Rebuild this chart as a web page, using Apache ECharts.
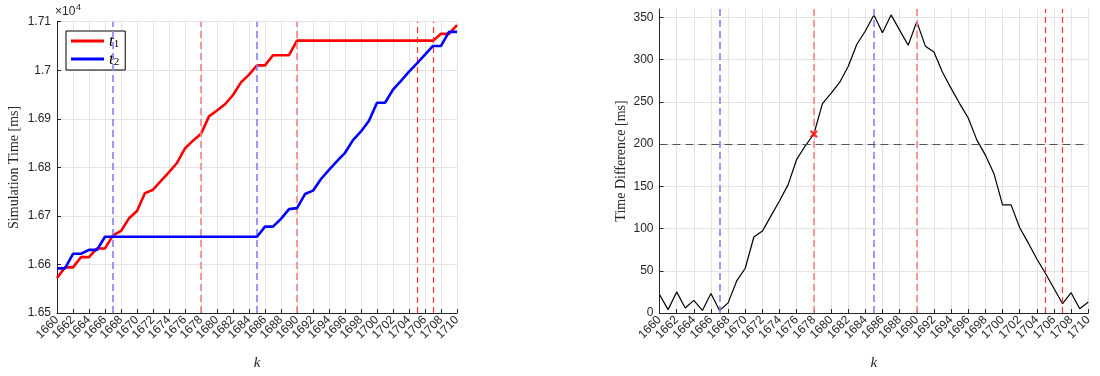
<!DOCTYPE html>
<html><head><meta charset="utf-8">
<script src="https://cdn.jsdelivr.net/npm/echarts@6/dist/echarts.min.js"></script>
<style>html,body{margin:0;padding:0;background:#fff}#c{width:1100px;height:376px}</style>
</head><body><div id="c"></div>
<script>
// ---- data ----
const kValues = [1660,1661,1662,1663,1664,1665,1666,1667,1668,1669,1670,1671,1672,1673,1674,1675,1676,1677,1678,1679,1680,1681,1682,1683,1684,1685,1686,1687,1688,1689,1690,1691,1692,1693,1694,1695,1696,1697,1698,1699,1700,1701,1702,1703,1704,1705,1706,1707,1708,1709,1710];
const t1 = [16572,16594,16594,16615,16615,16633,16633,16660,16669,16695,16710,16747,16754,16772,16790,16809,16839,16855,16869,16905,16917,16930,16949,16975,16991,17010,17010,17031,17031,17031,17061,17061,17061,17061,17061,17061,17061,17061,17061,17061,17061,17061,17061,17061,17061,17061,17061,17061,17075,17075,17093];
const t2 = [16592,16592,16622,16622,16630,16630,16657,16657,16657,16657,16657,16657,16657,16657,16657,16657,16657,16657,16657,16657,16657,16657,16657,16657,16657,16657,16678,16678,16694,16714,16716,16745,16752,16776,16795,16813,16830,16856,16874,16896,16933,16933,16960,16978,16997,17014,17032,17050,17050,17079,17079];
const timeDiff = [22,4,25,6,15,3,23,3,12,38,53,90,97,115,133,152,182,198,212,248,260,273,292,318,334,353,332,353,335,317,345,316,309,285,266,248,231,205,187,165,128,128,101,83,64,47,29,11,24,5,13];
const seriesNames = ['t1', 't2'];
const blueLines = [1667, 1685];
const lightRedLines = [1678, 1690];
const redLines = [1705, 1707];
const thresholdValue = 200;
const crossPoint = [1678, 212];
const leftYTicks = [16500, 16600, 16700, 16800, 16900, 17000, 17100];
const rightYTicks = [0, 50, 100, 150, 200, 250, 300, 350];

// ---- helpers ----
const pairs = arr => kValues.map((k, i) => [k, arr[i]]);
const axisColor = '#262626';
const gridColor = '#e3e3e3';
const tickFont = {fontFamily: 'Liberation Sans', fontSize: 12, color: axisColor};
const serif = 'Liberation Serif';

// Two overlaid x axes per grid, each labelling every other tick, so rotated labels are never dropped.
function xAxisDef(gridIndex, phase, main) {
  return {
    type: 'value', gridIndex, min: 1660, max: 1710, interval: 2, position: 'bottom', offset: 0,
    name: main ? 'k' : '', nameLocation: 'middle', nameGap: 43,
    nameTextStyle: {fontFamily: serif, fontStyle: 'italic', fontSize: 15, color: axisColor},
    axisLine: {show: main, lineStyle: {color: axisColor, width: 1}},
    axisTick: {show: main, inside: true, length: 4, lineStyle: {color: axisColor}},
    axisLabel: Object.assign({rotate: 45, margin: 5, interval: 0,
      formatter: v => ((v - 1660) % 4 === phase ? String(v) : '')}, tickFont),
    splitLine: {show: main, lineStyle: {color: gridColor, width: 1}}
  };
}
function vLines(vals, color, width, dash) {
  return vals.map(v => ({xAxis: v, lineStyle: {color, width, type: dash, opacity: 1}}));
}
const allVLines = [].concat(
  vLines(blueLines, '#8080ff', 1.6, [7, 4]),
  vLines(lightRedLines, '#ff8080', 1.6, [7, 4]),
  vLines(redLines, '#ff3333', 1.2, [6, 4])
);
// right y split lines: one per tick value, plus a hidden one at the 360 edge
const rightSplitColors = rightYTicks.map(() => gridColor).concat(['rgba(0,0,0,0)']);

const chart = echarts.init(document.getElementById('c'), null, {renderer: 'canvas'});
chart.setOption({
  animation: false,
  backgroundColor: '#fff',
  grid: [
    {left: 57, right: 643, top: 21.7, bottom: 49, containLabel: false},
    {left: 659.5, right: 11.7, top: 9, bottom: 52, containLabel: false}
  ],
  xAxis: [xAxisDef(0, 0, true), xAxisDef(0, 2, false), xAxisDef(1, 0, true), xAxisDef(1, 2, false)],
  yAxis: [
    {
      type: 'value', gridIndex: 0, min: leftYTicks[0], max: leftYTicks[leftYTicks.length - 1], interval: 100,
      name: 'Simulation Time [ms]', nameLocation: 'middle', nameGap: 36,
      nameTextStyle: {fontFamily: serif, fontSize: 14, color: axisColor},
      axisLine: {show: true, lineStyle: {color: axisColor}},
      axisTick: {show: true, inside: true, length: 4, lineStyle: {color: axisColor}},
      axisLabel: Object.assign({margin: 6, formatter: v => String(+(v / 1e4).toFixed(2))}, tickFont),
      splitLine: {show: true, lineStyle: {color: gridColor}}
    },
    {
      type: 'value', gridIndex: 1, min: 0, max: 360, interval: 50,
      name: 'Time Difference [ms]', nameLocation: 'middle', nameGap: 31,
      nameTextStyle: {fontFamily: serif, fontSize: 14, color: axisColor},
      axisLine: {show: true, lineStyle: {color: axisColor}},
      axisTick: {show: true, inside: true, length: 4, lineStyle: {color: axisColor}},
      axisLabel: Object.assign({margin: 6, showMaxLabel: false, formatter: v => rightYTicks.includes(v) ? String(v) : ''}, tickFont),
      splitLine: {show: true, lineStyle: {color: rightSplitColors}}
    }
  ],
  legend: {
    data: seriesNames.map(n => ({name: n, icon: 'rect'})),
    orient: 'vertical', left: 66, top: 31,
    itemWidth: 33, itemHeight: 3, itemGap: 1,
    padding: [2, 6, 2, 5],
    borderColor: '#000', borderWidth: 1, backgroundColor: '#fff',
    formatter: n => '{t|' + n.charAt(0) + '}{s|' + n.slice(1) + '}',
    textStyle: {
      color: '#000',
      rich: {
        t: {fontFamily: serif, fontStyle: 'italic', fontSize: 17, color: '#000', lineHeight: 18, verticalAlign: 'bottom'},
        s: {fontFamily: serif, fontSize: 11, color: '#000', lineHeight: 18, verticalAlign: 'bottom', padding: [6, 0, 0, 0]}
      }
    }
  },
  graphic: [
    {type: 'text', left: 55, top: 6, style: {text: '\u00d710', font: '12px "Liberation Sans"', fill: axisColor}},
    {type: 'text', left: 76, top: 3, style: {text: '4', font: '9px "Liberation Sans"', fill: axisColor}}
  ],
  series: [
    {
      name: seriesNames[0], type: 'line', xAxisIndex: 0, yAxisIndex: 0, data: pairs(t1),
      symbol: 'none', lineStyle: {color: '#ff0000', width: 2.6}, itemStyle: {color: '#ff0000'}, z: 4,
      markLine: {silent: true, symbol: 'none', label: {show: false}, data: allVLines}
    },
    {
      name: seriesNames[1], type: 'line', xAxisIndex: 0, yAxisIndex: 0, data: pairs(t2),
      symbol: 'none', lineStyle: {color: '#0000ff', width: 2.6}, itemStyle: {color: '#0000ff'}, z: 5
    },
    {
      name: 'diff', type: 'line', xAxisIndex: 2, yAxisIndex: 1, data: pairs(timeDiff),
      symbol: 'none', lineStyle: {color: '#000', width: 1.2}, z: 4,
      markLine: {silent: true, symbol: 'none', label: {show: false},
        data: allVLines.concat([{yAxis: thresholdValue, lineStyle: {color: '#555', width: 1, type: [8, 5], opacity: 1}}])}
    },
    {
      name: 'cross', type: 'scatter', xAxisIndex: 2, yAxisIndex: 1, data: [crossPoint],
      symbol: 'path://M0,2 L2,0 L5,3 L8,0 L10,2 L7,5 L10,8 L8,10 L5,7 L2,10 L0,8 L3,5 Z',
      symbolSize: 8, itemStyle: {color: '#ff0000'}, z: 6
    }
  ]
});
</script></body></html>
